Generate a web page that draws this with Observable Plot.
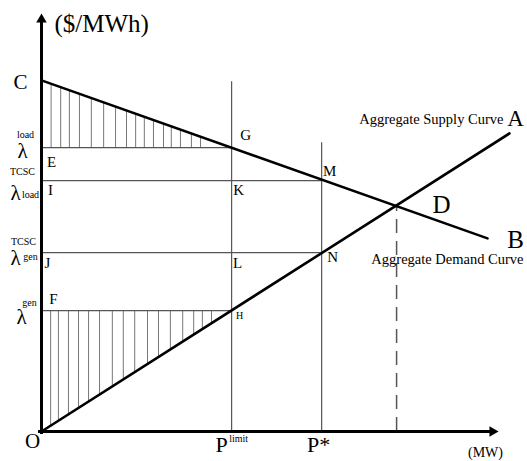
<!DOCTYPE html>
<html>
<head>
<meta charset="utf-8">
<script src="https://cdn.jsdelivr.net/npm/d3@7"></script>
<script src="https://cdn.jsdelivr.net/npm/@observablehq/plot@0.6"></script>
<style>
  html, body { margin: 0; padding: 0; background: white; }
  svg text { font-family: "Liberation Serif", "Times New Roman", serif !important; }
</style>
</head>
<body>
<div id="chart"></div>
<script>
// Quantity levels (MW, arbitrary units)
const quantityNames = ["Plimit", "Pstar", "PD"];
const quantityValues = [41.6, 61.3, 77.7];
// Price levels ($/MWh, arbitrary units)
const priceNames = ["lambdaLoad", "lambdaLoadTCSC", "lambdaGenTCSC", "lambdaGen"];
const priceValues = [67.9, 60.0, 42.8, 28.9];
// Curves (end points)
const demandCurve = [[0, 84], [97.6, 46.2]];
const supplyCurve = [[0, 0], [102.4, 71.3]];
// Equilibrium D
const equilibrium = [77.7, 54.1];
// Tops of the vertical guide lines
const verticalTops = [83.7, 69.1];
// Hatch line positions
const hatchUpperX = [2.1, 4.2, 6.1, 8.3, 10.9, 13.6, 16.2, 18.6, 20.6, 22.5, 24.5, 26.7, 28.4, 30.4, 32.8, 34.8];
const hatchLowerX = [2.0, 3.7, 5.9, 8.1, 10.3, 12.7, 15.5, 17.9, 20.4, 23.2, 25.6, 28.2, 30.9, 33.3, 35.2, 37.2];
// Axis extents
const axisMax = [100, 100];

const lerp = (curve) => (x) => {
  const [[x0, y0], [x1, y1]] = curve;
  return y0 + (y1 - y0) * (x - x0) / (x1 - x0);
};
const demandAt = lerp(demandCurve);
const supplyAt = lerp(supplyCurve);

const [Plimit, Pstar, PD] = quantityValues;
const [lLoad, lLoadT, lGenT, lGen] = priceValues;

const FONT = "Liberation Serif";
function label(x, y, text, opts = {}) {
  return Plot.text([0], {
    x: () => x, y: () => y, text: () => text,
    fontFamily: FONT, fill: "black",
    textAnchor: "middle",
    ...opts
  });
}
const gray = "#555";

const chart = Plot.plot({
  width: 527,
  height: 461,
  margin: 0,
  x: { domain: [0, 100], range: [41, 498], axis: null },
  y: { domain: [0, 100], range: [431, 13], axis: null },
  style: { fontFamily: FONT, background: "white" },
  marks: [
    // hatching
    Plot.ruleX(hatchUpperX, { x: d => d, y1: lLoad, y2: d => demandAt(d), stroke: "#777", strokeWidth: 1 }),
    Plot.ruleX(hatchLowerX, { x: d => d, y1: d => supplyAt(d), y2: lGen, stroke: "#777", strokeWidth: 1 }),
    // horizontal price lines
    Plot.ruleY([lLoad], { x1: 0, x2: Plimit, stroke: gray, strokeWidth: 1.2 }),
    Plot.ruleY([lLoadT], { x1: 0, x2: Pstar, stroke: gray, strokeWidth: 1.2 }),
    Plot.ruleY([lGenT], { x1: 0, x2: Pstar, stroke: gray, strokeWidth: 1.2 }),
    Plot.ruleY([lGen], { x1: 0, x2: Plimit, stroke: gray, strokeWidth: 1.2 }),
    // vertical lines
    Plot.ruleX([Plimit], { y1: 0, y2: verticalTops[0], stroke: gray, strokeWidth: 1.2 }),
    Plot.ruleX([Pstar], { y1: 0, y2: verticalTops[1], stroke: gray, strokeWidth: 1.2 }),
    Plot.ruleX([PD], { y1: 0, y2: equilibrium[1], stroke: gray, strokeWidth: 1.5, strokeDasharray: "14,8" }),
    // curves
    Plot.line(demandCurve, { x: d => d[0], y: d => d[1], stroke: "black", strokeWidth: 2.6 }),
    Plot.line(supplyCurve, { x: d => d[0], y: d => d[1], stroke: "black", strokeWidth: 2.6 }),
    // axes
    Plot.ruleY([0], { x1: 0, x2: axisMax[0], stroke: "black", strokeWidth: 3, dx: -3 }),
    Plot.ruleX([0], { y1: 0, y2: axisMax[1], stroke: "black", strokeWidth: 3, dy: 3 }),
    Plot.dot([[axisMax[0], 0]], { x: d => d[0], y: d => d[1], symbol: "triangle", r: 3.9, rotate: 90, fill: "black", stroke: "none", dx: -6 }),
    Plot.dot([[0, axisMax[1]]], { x: d => d[0], y: d => d[1], symbol: "triangle", r: 3.9, rotate: 0, fill: "black", stroke: "none", dy: 6 }),
    // labels
    label(0, axisMax[1], "($/MWh)", { textAnchor: "start", dx: 13, dy: 10, fontSize: 25 }),
    label(0, demandCurve[0][1], "C", { dx: -21, dy: 2, fontSize: 21 }),
    label(0, lLoad, "λ", { dx: -19, dy: 4, fontSize: 21 }),
    label(0, lLoad, "load", { dx: -16, dy: -13, fontSize: 10 }),
    label(0, lLoad, "E", { dx: 10, dy: 15, fontSize: 15 }),
    label(0, lLoadT, "TCSC", { dx: -19, dy: -9, fontSize: 10 }),
    label(0, lLoadT, "λ", { dx: -26, dy: 13, fontSize: 21 }),
    label(0, lLoadT, "load", { dx: -11, dy: 14, fontSize: 10 }),
    label(0, lLoadT, "I", { dx: 9, dy: 9, fontSize: 15 }),
    label(Plimit, lLoad, "G", { dx: 14, dy: -12, fontSize: 15 }),
    label(Plimit, lLoadT, "K", { dx: 7, dy: 9, fontSize: 15 }),
    label(Pstar, lLoadT, "M", { dx: 8, dy: -10, fontSize: 15 }),
    label(Pstar, lGenT, "N", { dx: 11, dy: 5, fontSize: 15 }),
    label(0, lGenT, "J", { dx: 6, dy: 11, fontSize: 15 }),
    label(Plimit, lGenT, "L", { dx: 6, dy: 11, fontSize: 15 }),
    label(0, lGenT, "TCSC", { dx: -18, dy: -11, fontSize: 10 }),
    label(0, lGenT, "λ", { dx: -26, dy: 6, fontSize: 21 }),
    label(0, lGenT, "gen", { dx: -11, dy: 4, fontSize: 10 }),
    label(0, lGen, "F", { dx: 12, dy: -12, fontSize: 15 }),
    label(0, lGen, "gen", { dx: -12, dy: -8, fontSize: 10 }),
    label(0, lGen, "λ", { dx: -20, dy: 7, fontSize: 21 }),
    label(Plimit, lGen, "H", { dx: 8, dy: 5, fontSize: 10 }),
    label(0, 0, "O", { dx: -9, dy: 10, fontSize: 21 }),
    label(Plimit, 0, "P", { dx: -10, dy: 13, fontSize: 22 }),
    label(Plimit, 0, "limit", { dx: 7, dy: 7, fontSize: 10 }),
    label(Pstar, 0, "P*", { dx: -3, dy: 13, fontSize: 22 }),
    label(axisMax[0], 0, "(MW)", { dx: -13, dy: 21, fontSize: 14 }),
    label(equilibrium[0], equilibrium[1], "D", { dx: 45, dy: 0, fontSize: 25 }),
    label(demandCurve[1][0], demandCurve[1][1], "B", { dx: 28, dy: 2, fontSize: 25 }),
    label(supplyCurve[1][0], supplyCurve[1][1], "A", { dx: 6, dy: -15, fontSize: 23 }),
    label(supplyCurve[1][0], supplyCurve[1][1], "Aggregate Supply Curve", { textAnchor: "end", dx: -6, dy: -14, fontSize: 14.5 }),
    label(demandCurve[1][0], demandCurve[1][1], "Aggregate Demand Curve", { textAnchor: "end", dx: 36, dy: 21, fontSize: 14.5 })
  ]
});
document.getElementById("chart").appendChild(chart);
</script>
</body>
</html>
